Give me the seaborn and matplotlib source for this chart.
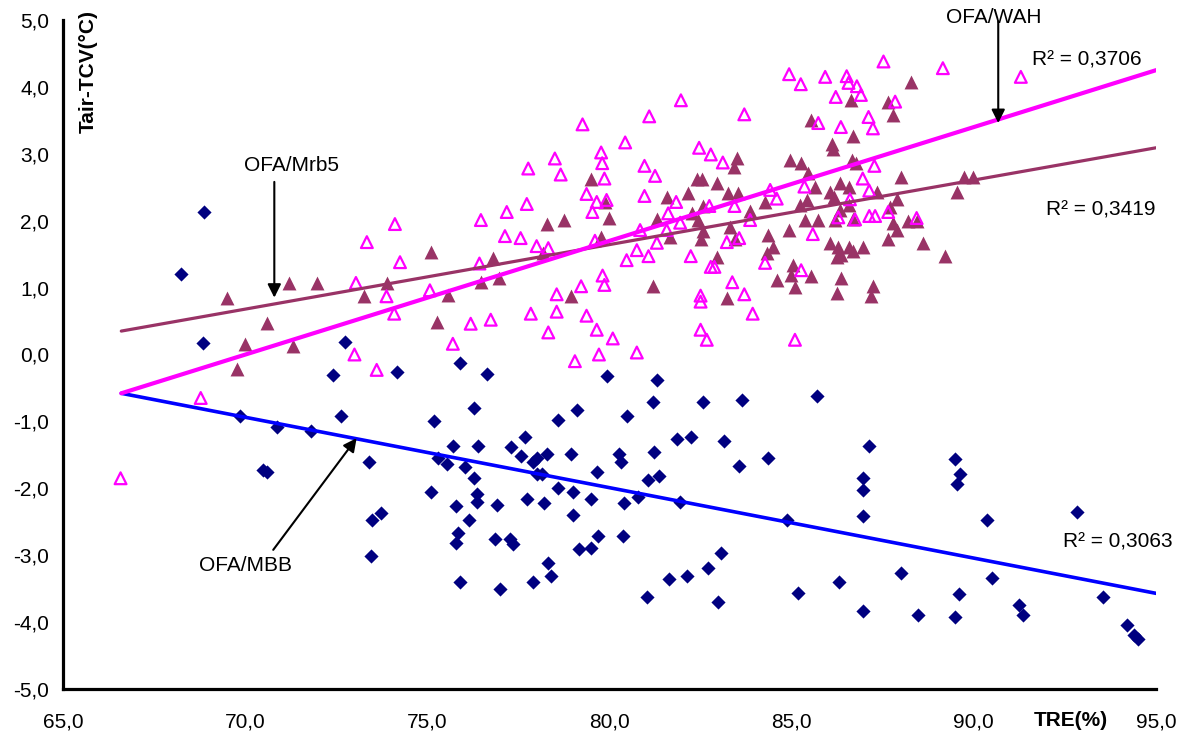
import numpy as np
import pandas as pd
import matplotlib
matplotlib.use("Agg")
import matplotlib.pyplot as plt
from matplotlib.ticker import FixedLocator, FuncFormatter
import seaborn as sns

# ---------------- data ----------------
# OFA/MBB (navy diamonds)
mbb_x = [68.23, 68.88, 68.83, 72.74, 72.40, 74.16, 75.90,
         69.86, 70.87, 71.80, 72.62, 70.50, 70.60,
         75.19, 75.70, 75.30, 75.53, 73.40, 75.09, 73.72, 73.49, 73.45,
         75.80, 75.85, 75.80, 75.90,
         76.63, 79.92, 81.30, 81.19, 82.56, 83.65, 85.69,
         76.29, 78.60, 79.10, 80.47,
         76.40, 77.68, 77.29, 77.56, 78.28, 77.91, 78.02, 78.94, 80.25, 80.31,
         81.23, 81.85, 82.23, 83.15, 84.36, 83.56,
         76.04, 76.29, 78.00, 78.16, 79.65, 81.07, 81.36,
         78.60, 78.99, 79.49, 80.79, 80.41, 81.94, 84.87,
         76.35, 76.35, 76.90, 77.73, 78.21, 76.14, 78.99,
         76.86, 77.27, 77.34, 79.69, 79.15, 79.49, 80.36,
         78.32, 78.39, 83.05, 82.71, 82.12, 81.62,
         77.00, 77.89, 81.02, 82.99, 85.18, 86.30,
         87.12, 86.95, 86.95, 86.95, 89.47, 89.61, 89.53, 90.35, 92.82,
         88.00, 86.95, 88.48, 89.47, 89.59, 90.51, 91.24, 91.34, 93.54,
         94.20, 94.40, 94.50]
mbb_y = [1.20, 2.13, 0.17, 0.19, -0.31, -0.26, -0.13,
         -0.92, -1.09, -1.15, -0.92, -1.72, -1.75,
         -1.00, -1.37, -1.54, -1.64, -1.60, -2.05, -2.37, -2.47, -3.01,
         -2.26, -2.67, -2.82, -3.40,
         -0.29, -0.32, -0.38, -0.71, -0.71, -0.68, -0.62,
         -0.80, -0.98, -0.83, -0.92,
         -1.37, -1.24, -1.39, -1.52, -1.48, -1.60, -1.54, -1.48, -1.49, -1.61,
         -1.45, -1.27, -1.24, -1.30, -1.54, -1.66,
         -1.68, -1.84, -1.79, -1.78, -1.75, -1.88, -1.81,
         -1.99, -2.05, -2.16, -2.13, -2.22, -2.20, -2.47,
         -2.09, -2.21, -2.25, -2.16, -2.22, -2.47, -2.40,
         -2.76, -2.76, -2.83, -2.71, -2.91, -2.89, -2.71,
         -3.11, -3.31, -2.97, -3.19, -3.31, -3.36,
         -3.51, -3.40, -3.63, -3.70, -3.57, -3.40,
         -1.37, -1.85, -2.03, -2.41, -1.56, -1.78, -1.94, -2.47, -2.35,
         -3.27, -3.84, -3.90, -3.93, -3.58, -3.34, -3.75, -3.90, -3.63,
         -4.05, -4.20, -4.25]

# OFA/Mrb5 (maroon filled triangles)
mrb5_x = [69.49, 71.20, 71.96, 70.59, 70.00, 71.30, 69.77,
          75.10, 73.26, 73.88, 75.58, 75.26,
          85.53, 86.10, 86.13, 83.49, 83.43, 84.96, 85.25, 85.46, 85.64, 86.05,
          86.17, 85.23, 85.41, 85.37, 85.73, 86.19, 84.94, 86.04, 86.28, 86.24,
          85.05, 84.98, 85.52, 85.09, 84.59, 86.24, 84.36, 84.48, 84.32, 84.27,
          83.86, 83.31, 83.45, 83.54, 83.26, 82.94, 82.39, 82.53, 82.16, 81.57,
          82.26, 82.58, 82.44, 81.30, 82.58, 82.50, 81.66, 82.94, 81.19, 83.22,
          79.49, 79.88, 79.99, 79.76, 78.28, 78.76, 76.79, 78.18, 76.47, 76.97,
          78.94,
          88.27, 86.62, 87.65, 87.77, 86.68, 86.65, 86.77, 88.00, 89.74, 89.99,
          89.53, 86.33, 86.56, 87.34, 87.88, 87.70, 86.56, 86.33, 86.69,
          87.79, 87.88, 88.20, 88.43, 87.65, 88.60, 86.58, 86.95, 86.35,
          86.69, 89.21, 86.35, 87.22, 87.17]
mrb5_y = [0.84, 1.07, 1.07, 0.47, 0.16, 0.12, -0.21,
          1.53, 0.87, 1.07, 0.89, 0.49,
          3.51, 3.15, 3.07, 2.93, 2.81, 2.90, 2.86, 2.72, 2.51, 2.43,
          2.36, 2.23, 2.31, 2.01, 2.01, 2.01, 1.86, 1.66, 1.61, 1.46,
          1.34, 1.19, 1.17, 1.01, 1.12, 0.92, 1.79, 1.61, 1.51, 2.28,
          2.15, 1.91, 1.72, 2.42, 2.42, 2.57, 2.63, 2.63, 2.42, 2.36,
          2.12, 2.22, 2.01, 2.03, 1.84, 1.72, 1.76, 1.46, 1.02, 0.84,
          2.63, 2.28, 2.04, 1.75, 1.95, 2.01, 1.44, 1.51, 1.09, 1.14,
          0.87,
          4.08, 3.80, 3.78, 3.58, 3.26, 2.91, 2.86, 2.66, 2.66, 2.66,
          2.43, 2.57, 2.51, 2.43, 2.33, 2.20, 2.23, 2.16, 2.02,
          1.96, 1.86, 2.00, 1.99, 1.72, 1.67, 1.61, 1.61, 1.49,
          1.55, 1.47, 1.14, 1.02, 0.87]

# OFA/WAH (magenta open triangles)
wah_x = [66.58, 68.78,
         73.04, 73.34, 74.11, 74.25, 73.88, 74.09, 75.07, 75.70, 73.00, 73.61,
         79.05, 79.71, 80.75,
         84.93, 85.25, 85.92, 86.21, 85.73, 81.96, 81.09, 83.70, 79.26, 80.43,
         79.77, 79.80, 78.50, 82.46, 82.78, 83.11, 77.77, 78.66, 80.96, 81.25,
         79.86, 79.37, 79.65, 79.92, 79.53, 80.96, 81.83, 81.61, 81.94, 82.74,
         83.43, 83.86, 84.41, 84.59, 85.35, 85.58, 76.47, 77.18, 77.73, 77.13,
         77.56, 78.00, 78.32, 79.60, 80.84, 80.75, 81.30, 80.47, 81.07, 81.57,
         82.23, 82.78, 82.88, 83.22, 83.56, 84.27, 85.26, 76.43, 79.81, 79.86,
         83.37, 83.70, 82.50, 82.50, 83.93, 78.55, 79.22, 77.84, 78.55, 79.37,
         76.74, 76.19, 78.32, 79.65, 80.09, 82.50, 82.67, 85.09, 86.35,
         87.52, 89.15, 91.29, 86.51, 86.56, 86.79, 86.90, 87.84, 87.11, 87.23,
         87.27, 86.95, 87.13, 86.60, 87.13, 87.29, 87.65, 88.43, 86.28, 86.74]
wah_y = [-1.85, -0.65,
         1.07, 1.68, 1.95, 1.38, 0.87, 0.61, 0.96, 0.16, 0.00, -0.23,
         -0.10, 0.00, 0.03,
         4.19, 4.04, 4.15, 3.85, 3.46, 3.80, 3.56, 3.59, 3.44, 3.17,
         3.02, 2.86, 2.93, 3.09, 2.99, 2.87, 2.78, 2.69, 2.82, 2.67,
         2.63, 2.40, 2.28, 2.31, 2.13, 2.37, 2.28, 2.11, 1.97, 2.22,
         2.22, 2.01, 2.46, 2.33, 2.51, 1.80, 2.01, 2.13, 2.25, 1.77,
         1.74, 1.62, 1.59, 1.70, 1.86, 1.56, 1.67, 1.41, 1.47, 1.86,
         1.47, 1.31, 1.31, 1.68, 1.74, 1.37, 1.26, 1.36, 1.18, 1.04,
         1.08, 0.90, 0.88, 0.79, 0.61, 0.90, 1.02, 0.61, 0.64, 0.58,
         0.52, 0.46, 0.33, 0.37, 0.24, 0.37, 0.22, 0.22, 3.40,
         4.38, 4.28, 4.15, 4.16, 4.06, 4.01, 3.88, 3.78, 3.55, 3.38,
         2.82, 2.63, 2.45, 2.32, 2.07, 2.07, 2.13, 2.04, 2.05, 2.02]

# linear trend lines (end points)
trend_x = [66.6, 95.0]
wah_trend = [-0.58, 4.25]
mrb5_trend = [0.35, 3.09]
mbb_trend = [-0.58, -3.57]

r2_texts = ["R\u00b2 = 0,3706", "R\u00b2 = 0,3419", "R\u00b2 = 0,3063"]
x_ticks = [65, 70, 75, 80, 85, 90, 95]
y_ticks = [-5, -4, -3, -2, -1, 0, 1, 2, 3, 4, 5]

# ---------------- styling ----------------
sns.set_style("white")
plt.rcParams["font.family"] = ["Liberation Sans", "DejaVu Sans"]
plt.rcParams["text.color"] = "black"
plt.rcParams["axes.labelcolor"] = "black"
plt.rcParams["xtick.color"] = "black"
plt.rcParams["ytick.color"] = "black"

FS = 15
NAVY = "#000080"
MAROON = "#993366"
MAGENTA = "#FF00FF"
BLUE = "#0000FF"

fig = plt.figure(figsize=(11.84, 7.38), dpi=100)
ax = fig.add_axes([63 / 1184, 1 - 689 / 738, (1156 - 63) / 1184, (689 - 20) / 738])

sns.scatterplot(x=mbb_x, y=mbb_y, marker="D", s=52, color=NAVY,
                edgecolor=NAVY, linewidth=0, ax=ax, zorder=3)
sns.scatterplot(x=mrb5_x, y=mrb5_y, marker="^", s=100, color=MAROON,
                edgecolor=MAROON, linewidth=0, ax=ax, zorder=3)
sns.scatterplot(x=wah_x, y=wah_y, marker="^", s=72, facecolor="none",
                edgecolor=MAGENTA, linewidth=1.6, ax=ax, zorder=4)

sns.lineplot(x=trend_x, y=mbb_trend, color=BLUE, linewidth=2.6, ax=ax, zorder=5)
sns.lineplot(x=trend_x, y=mrb5_trend, color=MAROON, linewidth=2.3, ax=ax, zorder=5)
sns.lineplot(x=trend_x, y=wah_trend, color=MAGENTA, linewidth=3.0, ax=ax, zorder=6)

ax.set_xlim(65, 95)
ax.set_ylim(-5, 5)
ax.xaxis.set_major_locator(FixedLocator(x_ticks))
ax.yaxis.set_major_locator(FixedLocator(y_ticks))
fmt = FuncFormatter(lambda v, p: f"{v:.1f}".replace(".", ","))
ax.xaxis.set_major_formatter(fmt)
ax.yaxis.set_major_formatter(fmt)
ax.tick_params(axis="both", direction="out", length=5, width=1.6,
               labelsize=FS, colors="black", labelcolor="black", pad=5)
ax.tick_params(axis="x", pad=12)

for side in ["top", "right"]:
    ax.spines[side].set_visible(False)
for side in ["left", "bottom"]:
    ax.spines[side].set_linewidth(2.3)
    ax.spines[side].set_color("black")

ax.set_xlabel("TRE(%)", fontsize=FS, fontweight="bold", color="black")
ax.xaxis.set_label_coords((1071 - 63) / 1093, -(720 - 689) / 669)
ax.xaxis.label.set_va("center")
ax.set_ylabel("Tair-TCV(\u00b0C)", fontsize=FS, fontweight="bold", color="black")
ax.yaxis.set_label_coords((88 - 63) / 1093, 1 + 10 / 669)
ax.yaxis.label.set_ha("right")
ax.yaxis.label.set_va("center")

arrow = dict(arrowstyle="-|>", color="black", lw=1.5, mutation_scale=20,
             shrinkA=0, shrinkB=0)
ax.text(71.28, 2.82, "OFA/Mrb5", ha="center", va="center", fontsize=FS, color="black")
ax.annotate("", xy=(70.8, 0.85), xytext=(70.8, 2.58), arrowprops=arrow, zorder=7)
ax.text(90.54, 5.03, "OFA/WAH", ha="center", va="center", fontsize=FS, color="black")
ax.annotate("", xy=(90.67, 3.46), xytext=(90.67, 4.98), arrowprops=arrow, zorder=7)
ax.text(70.02, -3.16, "OFA/MBB", ha="center", va="center", fontsize=FS, color="black")
ax.annotate("", xy=(73.06, -1.25), xytext=(70.77, -2.92), arrowprops=arrow, zorder=7)

ax.text(93.1, 4.40, r2_texts[0], ha="center", va="center", fontsize=FS, color="black")
ax.text(93.48, 2.16, r2_texts[1], ha="center", va="center", fontsize=FS, color="black")
ax.text(93.96, -2.80, r2_texts[2], ha="center", va="center", fontsize=FS, color="black")

fig.savefig("out.png", dpi=100)
